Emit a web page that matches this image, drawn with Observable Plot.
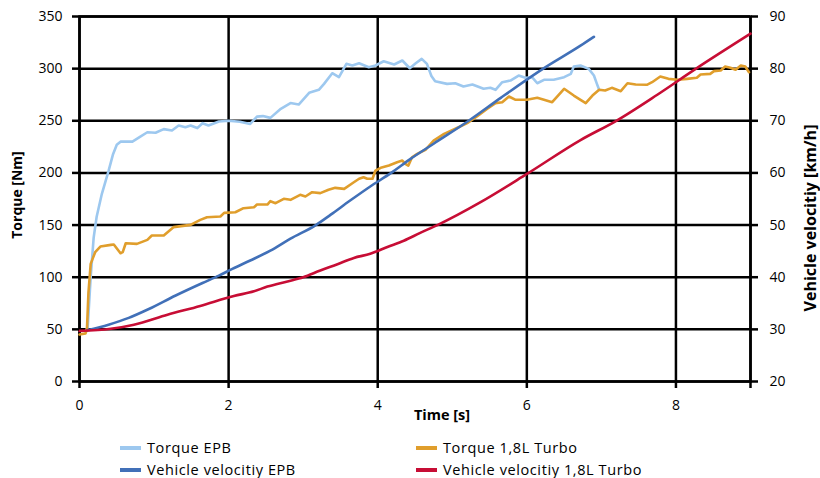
<!DOCTYPE html>
<html><head><meta charset="utf-8">
<script src="https://cdn.jsdelivr.net/npm/d3@7"></script>
<script src="https://cdn.jsdelivr.net/npm/@observablehq/plot@0.6"></script>
<style>
body{margin:0;background:#fff;font-family:"Open Sans",sans-serif;}
#wrap{position:relative;width:820px;height:478px;overflow:hidden;}
.item{position:absolute;font-size:14.5px;letter-spacing:0.6px;color:#000;display:flex;align-items:center;white-space:nowrap;line-height:14px;height:14px;}
.sw{width:21px;height:4px;margin-right:6px;}
</style></head><body><div id="wrap"></div>
<script>
// time [s], torque [Nm]
const torqueEPB = [[0.08,48],[0.11,52],[0.15,100],[0.19,138],[0.23,158],[0.3,180],[0.39,202],[0.45,218],[0.5,227],[0.55,230],[0.71,230],[0.8,234],[0.91,239],[1.02,238.5],[1.13,242],[1.24,240.7],[1.33,245.5],[1.42,243.8],[1.49,245.5],[1.58,243],[1.65,247.7],[1.73,245.5],[1.87,249.3],[2.0,250],[2.15,249],[2.29,247],[2.38,254],[2.46,254.5],[2.56,252.8],[2.70,261.5],[2.83,267],[2.94,265.6],[3.08,276.8],[3.21,279.7],[3.28,285.4],[3.39,295.6],[3.48,291.8],[3.58,304.6],[3.66,303],[3.75,305.2],[3.88,301.4],[3.97,303],[4.08,307.1],[4.22,304],[4.33,307.8],[4.43,300.4],[4.51,305.2],[4.59,309.4],[4.66,304.6],[4.72,293],[4.77,288],[4.93,285.4],[5.04,286],[5.15,282.9],[5.27,284.8],[5.42,280.7],[5.51,281.6],[5.58,279.7],[5.67,287],[5.78,288.6],[5.89,293.4],[5.98,291.2],[6.07,291.8],[6.14,286],[6.23,289.3],[6.36,289.3],[6.50,291.8],[6.59,295],[6.63,302],[6.72,303],[6.83,299.8],[6.90,293.4],[6.94,285.4],[6.97,279.7]];
const torqueTurbo = [[0,45],[0.08,46],[0.1,50],[0.12,85],[0.15,112.8],[0.21,124],[0.28,129.4],[0.42,131],[0.46,131.4],[0.55,123],[0.58,124],[0.62,132.6],[0.77,132],[0.91,135.8],[0.97,140],[1.13,140],[1.26,148],[1.49,150.2],[1.62,155],[1.71,157.5],[1.89,158.2],[1.94,161.7],[2.09,162.3],[2.20,166.2],[2.34,167.1],[2.38,169.7],[2.52,169.7],[2.56,172.9],[2.63,171],[2.74,175.2],[2.83,174.2],[2.96,179],[3.03,177.4],[3.12,181.5],[3.23,180.6],[3.34,183.8],[3.43,185.7],[3.55,184.7],[3.66,190.1],[3.75,194.4],[3.81,195.9],[3.86,194.4],[3.93,194.4],[3.97,202.3],[4.04,204.9],[4.15,207.1],[4.26,210.3],[4.33,211.9],[4.37,208.7],[4.41,207],[4.46,215],[4.53,218.3],[4.64,222.2],[4.75,231],[4.89,237.5],[5.07,243.3],[5.20,247.7],[5.33,254.1],[5.47,261.5],[5.58,266.9],[5.67,267.8],[5.76,273.3],[5.85,270.1],[6.00,270.1],[6.14,272],[6.23,270.1],[6.34,267.8],[6.50,280.7],[6.63,274.2],[6.72,270.1],[6.79,266.9],[6.88,274.2],[6.97,279.7],[7.05,279],[7.14,281.6],[7.26,278.4],[7.35,286],[7.46,284.8],[7.61,284.5],[7.68,287],[7.79,292.5],[7.90,290.2],[8.02,289.3],[8.15,290.2],[8.28,291.2],[8.33,294.4],[8.46,295],[8.51,297.6],[8.60,298.2],[8.66,302],[8.73,300.8],[8.80,298.9],[8.87,303],[8.93,302],[8.98,296.6]];
// time [s], velocity [km/h]
const velocityEPB = [[0.1,29.8],[0.39,30.9],[0.66,32.2],[0.93,33.9],[1.29,36.5],[1.65,38.9],[1.87,40.3],[2.05,41.6],[2.29,43.2],[2.56,45.1],[2.83,47.4],[3.17,50],[3.37,52],[3.63,54.7],[3.90,57.4],[4.18,60],[4.44,62.7],[4.75,65.6],[5.22,70],[5.65,74.4],[6.22,80],[6.72,84.4],[6.90,86.1]];
const velocityTurbo = [[0,29.7],[0.42,30.1],[0.73,30.9],[1.18,32.8],[1.62,34.5],[2.07,36.4],[2.34,37.3],[2.52,38.2],[2.79,39.2],[3.0,40],[3.23,41.3],[3.46,42.5],[3.68,43.7],[3.90,44.5],[4.13,45.8],[4.35,47],[4.57,48.5],[4.80,50],[5.38,54.4],[6.0,59.8],[6.72,66.3],[7.2,70],[7.75,75],[8.27,80],[9.0,86.7]];

const seriesNames = ["Torque EPB","Torque 1,8L Turbo","Vehicle velocitiy EPB","Vehicle velocitiy 1,8L Turbo"];
const seriesColors = ["#9dc8ef","#e09e2c","#4170b8","#c70d35"];
const xTickValues = [0,2,4,6,8,9];
const xTickLabels = ["0","2","4","6","8",""];
const torqueTicks = [0,50,100,150,200,250,300,350];
const velocityTicks = [20,30,40,50,60,70,80,90];

const velToTorque = v => (v - 20) * 5;

const titleStyle = {textAnchor: "middle", lineAnchor: "middle", fontWeight: "bold"};

const plot = Plot.plot({
  width: 820, height: 430,
  marginTop: 16, marginLeft: 79, marginRight: 70, marginBottom: 49,
  style: {fontFamily: "Open Sans", fontSize: "14px", color: "#000", background: "#fff"},
  x: {domain: [0, 9]},
  y: {domain: [0, 350]},
  marks: [
    Plot.gridY(torqueTicks, {stroke: "#000", strokeOpacity: 1, strokeWidth: 2.5}),
    Plot.gridX(xTickValues, {stroke: "#000", strokeOpacity: 1, strokeWidth: 2.5}),
    Plot.frame({stroke: "#000", strokeWidth: 2.5}),
    Plot.line(torqueEPB, {x: d => d[0], y: d => d[1], stroke: seriesColors[0], strokeWidth: 2.6}),
    Plot.line(torqueTurbo, {x: d => d[0], y: d => d[1], stroke: seriesColors[1], strokeWidth: 2.6}),
    Plot.line(velocityEPB, {x: d => d[0], y: d => velToTorque(d[1]), stroke: seriesColors[2], strokeWidth: 2.6, curve: "monotone-x"}),
    Plot.line(velocityTurbo, {x: d => d[0], y: d => velToTorque(d[1]), stroke: seriesColors[3], strokeWidth: 2.6, curve: "monotone-x"}),
    Plot.axisX({ticks: xTickValues, tickFormat: (d, i) => xTickLabels[i], tickSize: 7, tickPadding: 12, strokeWidth: 2.5, label: null, fontSize: 14}),
    Plot.axisY({anchor: "left", ticks: torqueTicks, tickSize: 7, tickPadding: 10, strokeWidth: 2.5, label: null, fontSize: 14}),
    Plot.axisY({anchor: "right", ticks: velocityTicks.map(velToTorque), tickFormat: (d, i) => String(velocityTicks[i]), tickSize: 7, tickPadding: 12, strokeWidth: 2.5, label: null, fontSize: 14}),
    Plot.text(["Time [s]"], {...titleStyle, frameAnchor: "bottom", dy: 34, dx: 27, fontSize: 14.5}),
    Plot.text(["Torque [Nm]"], {...titleStyle, frameAnchor: "left", rotate: -90, dx: -62, dy: -4, fontSize: 14}),
    Plot.text(["Vehicle velocitiy [km/h]"], {...titleStyle, frameAnchor: "right", rotate: -90, dx: 60, dy: 19, fontSize: 16, letterSpacing: "1.4px"})
  ]
});
const wrap = document.getElementById("wrap");
wrap.appendChild(plot);

const colLeft = [120, 416];
const rowCenter = [447.5, 470];
seriesNames.forEach((name, i) => {
  const el = document.createElement("div");
  el.className = "item";
  el.style.left = colLeft[i % 2] + "px";
  el.style.top = (rowCenter[Math.floor(i / 2)] - 7) + "px";
  const sw = document.createElement("span");
  sw.className = "sw";
  sw.style.background = seriesColors[i];
  const tx = document.createElement("span");
  tx.textContent = name;
  el.appendChild(sw); el.appendChild(tx);
  wrap.appendChild(el);
});
</script>
</body></html>
